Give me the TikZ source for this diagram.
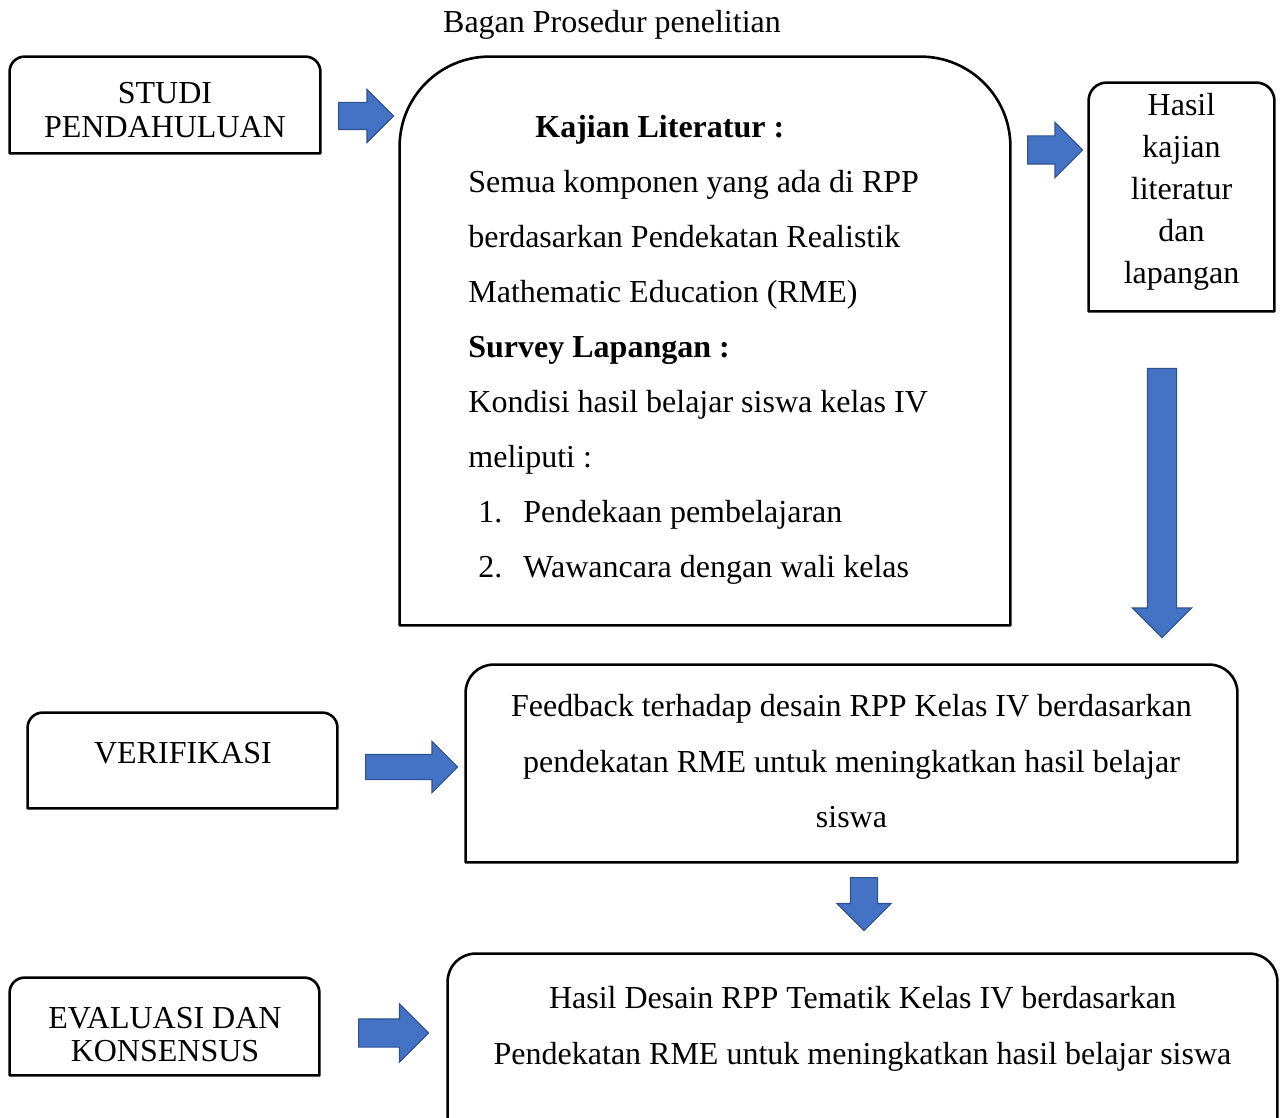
\documentclass[tikz,border=0pt]{standalone}
\usepackage{fontspec}
\setmainfont{Liberation Serif}
\usetikzlibrary{shapes.arrows}
\definecolor{arrowblue}{HTML}{4472C4}
\definecolor{arrowedge}{HTML}{2F528F}
\tikzset{
  frame/.style={rectangle, inner sep=0pt},
  outline/.style={draw=black, line width=1.3pt, line join=round},
  txt/.style={inner sep=0pt, font=\fontsize{16}{#1}\selectfont, execute at begin node={\spaceskip=\fontdimen2\font\relax}},
  txt/.default=18.4pt,
  blockarrow/.style={single arrow, draw=arrowedge, fill=arrowblue, line width=0.6pt, inner xsep=0pt, anchor=tail},
  downarrow/.style={blockarrow, shape border rotate=270, inner ysep=0pt}
}
% box with rounded top corners only
\newcommand{\topbox}[2]{%
  \draw[outline] (#1.south west) -- ([yshift=-#2]#1.north west)
    arc[start angle=180, end angle=90, radius=#2]
    -- ([xshift=-#2]#1.north east)
    arc[start angle=90, end angle=0, radius=#2]
    -- (#1.south east) -- cycle;}

\begin{document}
\begin{tikzpicture}[x=0.5pt, y=-0.5pt]
  \useasboundingbox (0,0) rectangle (1282,1118);
  \node[txt, anchor=base] (title) at (612,33) {Bagan Prosedur penelitian};

  % boxes
  \node[frame, minimum width=155pt, minimum height=48pt] (studi) at (165,105) {};
  \node[frame, minimum width=305pt, minimum height=284pt] (kajian) at (705,341) {};
  \node[frame, minimum width=92.5pt, minimum height=114pt] (hasil) at (1181.5,197) {};
  \node[frame, minimum width=154.5pt, minimum height=47.5pt] (verif) at (182.5,760.5) {};
  \node[frame, minimum width=385.5pt, minimum height=98.5pt] (feedback) at (851.5,763.5) {};
  \node[frame, minimum width=154.5pt, minimum height=48.5pt] (evaluasi) at (164.5,1026.5) {};
  \node[frame, minimum width=414.5pt, minimum height=93pt] (desain) at (862.5,1047) {};
  \topbox{studi}{7.5pt}
  \topbox{kajian}{45pt}
  \topbox{hasil}{9pt}
  \topbox{verif}{7.5pt}
  \topbox{feedback}{14pt}
  \topbox{evaluasi}{7.5pt}
  \topbox{desain}{14pt}

  % texts
  \node[txt=17pt, anchor=base, text width=150pt, align=center] (studitxt) at (165,104) {STUDI\\PENDAHULUAN};
  \node[txt=27.5pt, anchor=base west, text width=260pt, align=left] (kajiantxt) at (468,138) {%
    \hspace*{33.5pt}\textbf{Kajian Literatur :}\\
    Semua komponen yang ada di RPP\\
    berdasarkan Pendekatan Realistik\\
    Mathematic Education (RME)\\
    \textbf{Survey Lapangan :}\\
    Kondisi hasil belajar siswa kelas IV\\
    meliputi :\\
    \hspace*{5pt}\makebox[22.5pt][l]{1.}Pendekaan pembelajaran\\
    \hspace*{5pt}\makebox[22.5pt][l]{2.}Wawancara dengan wali kelas};
  \node[txt=21pt, anchor=base, text width=88pt, align=center] (hasiltxt) at (1181.5,116) {Hasil\\kajian\\literatur\\dan\\lapangan};
  \node[txt, anchor=base] (veriftxt) at (183,763) {VERIFIKASI};
  \node[txt=27.75pt, anchor=base, text width=380pt, align=center] (feedbacktxt) at (851.5,717) {Feedback terhadap desain RPP Kelas IV berdasarkan\\pendekatan RME untuk meningkatkan hasil belajar\\siswa};
  \node[txt=17pt, anchor=base, text width=150pt, align=center] (evaluasitxt) at (165,1028) {EVALUASI DAN\\KONSENSUS};
  \node[txt=28pt, anchor=base, text width=410pt, align=center] (desaintxt) at (862.5,1008) {Hasil Desain RPP Tematik Kelas IV berdasarkan\\Pendekatan RME untuk meningkatkan hasil belajar siswa};

  % block arrows
  \node[blockarrow, inner ysep=6.5pt, single arrow head extend=6.5pt, minimum width=26pt, minimum height=27.5pt] (a1) at (338,116) {};
  \node[blockarrow, inner ysep=6.75pt, single arrow head extend=6.75pt, minimum width=27pt, minimum height=27.5pt] (a2) at (1027,150) {};
  \node[downarrow, inner xsep=7pt, single arrow head extend=7.5pt, minimum width=29pt, minimum height=134.5pt] (a3) at (1162,368) {};
  \node[blockarrow, inner ysep=6pt, single arrow head extend=6.5pt, minimum width=25pt, minimum height=46pt] (a4) at (365,767) {};
  \node[downarrow, inner xsep=6.5pt, single arrow head extend=6.75pt, minimum width=26.5pt, minimum height=26.5pt] (a5) at (864,877) {};
  \node[blockarrow, inner ysep=6.75pt, single arrow head extend=7.5pt, minimum width=28.5pt, minimum height=35pt] (a6) at (358,1033) {};
\end{tikzpicture}
\end{document}
